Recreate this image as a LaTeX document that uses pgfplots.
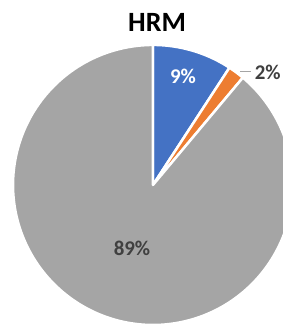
\documentclass[border=0pt]{standalone}
\usepackage{pgfplots}
\usepackage{pgfplotstable}
\pgfplotsset{compat=1.18}
\usepackage{fontspec}
\setmainfont{Carlito}
\definecolor{sBlue}{HTML}{4472C4}
\definecolor{sOrange}{HTML}{ED7D31}
\definecolor{sGray}{HTML}{A5A5A5}
\definecolor{lblGray}{HTML}{404040}
\pgfplotstableread{
label value
A 9.2
B 1.9
C 88.9
}\piedata
\pgfplotstablegetelem{0}{value}\of{\piedata}\let\vA\pgfplotsretval
\pgfplotstablegetelem{1}{value}\of{\piedata}\let\vB\pgfplotsretval
\pgfplotstablegetelem{2}{value}\of{\piedata}\let\vC\pgfplotsretval
\pgfmathsetmacro{\aA}{90}
\pgfmathsetmacro{\aB}{90-3.6*\vA}
\pgfmathsetmacro{\aC}{\aB-3.6*\vB}
\pgfmathsetmacro{\aD}{\aC-3.6*\vC}
\begin{document}
\begin{tikzpicture}
\begin{axis}[
  width=283bp, height=325bp, scale only axis,
  hide axis,
  xmin=-1.093, xmax=0.929, ymin=-1.0, ymax=1.321,
  clip=true,
]
\path (rel axis cs:0,0) rectangle (rel axis cs:1,1);
\addplot[fill=sBlue, draw=white, line width=2.5bp, line join=round, domain=\aB:\aA, samples=40, variable=\t] ({cos(\t)},{sin(\t)}) -- (axis cs:0,0) -- cycle;
\addplot[fill=sOrange, draw=white, line width=2.5bp, line join=round, domain=\aC:\aB, samples=10, variable=\t] ({cos(\t)},{sin(\t)}) -- (axis cs:0,0) -- cycle;
\addplot[fill=sGray, draw=white, line width=2.5bp, line join=round, domain=\aD:\aC, samples=200, variable=\t] ({cos(\t)},{sin(\t)}) -- (axis cs:0,0) -- cycle;
\draw[sGray, line width=1bp] (axis cs:0.621,0.807) -- (axis cs:0.70,0.807);
\node[font=\fontsize{21}{24}\selectfont\bfseries, text=white] at (axis cs:0.214,0.779) {9\%};
\node[font=\fontsize{21}{24}\selectfont\bfseries, text=lblGray] at (axis cs:0.82,0.807) {2\%};
\node[font=\fontsize{21}{24}\selectfont\bfseries, text=lblGray] at (axis cs:-0.15,-0.45) {89\%};
\node[font=\fontsize{28}{32}\selectfont\bfseries, text=black] at (axis cs:0.029,1.161) {HRM};
\end{axis}
\end{tikzpicture}
\end{document}
